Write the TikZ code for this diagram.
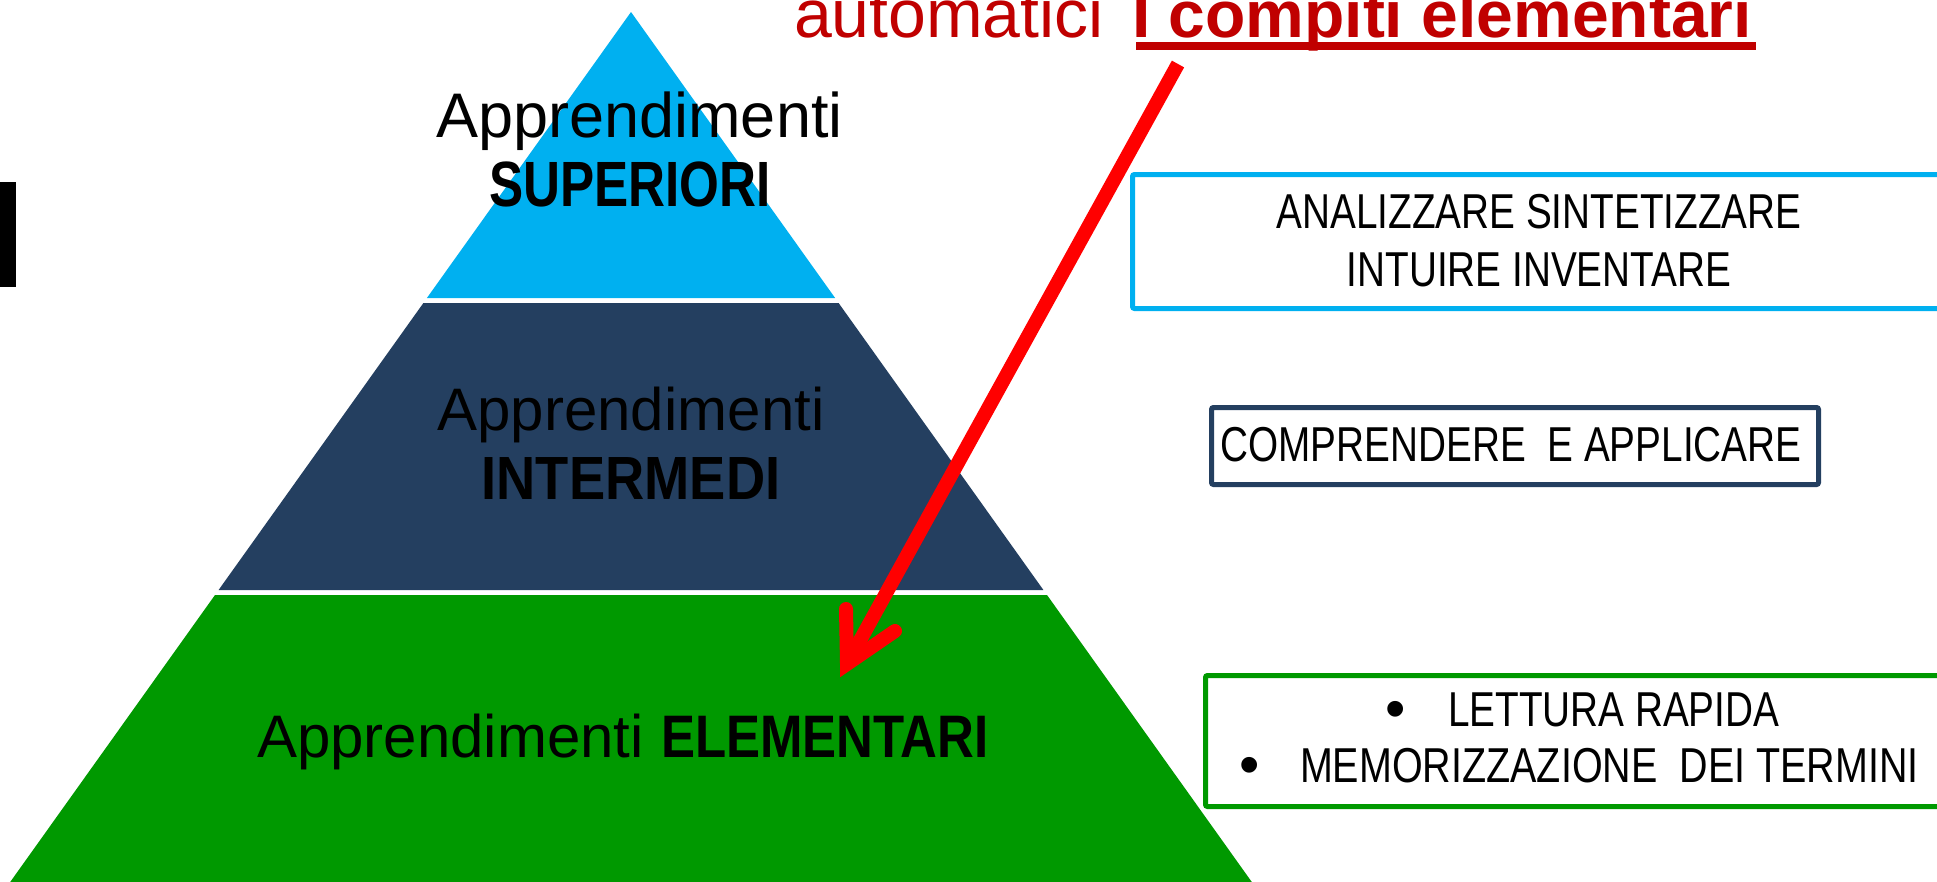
\documentclass[tikz,border=0pt]{standalone}
\usepackage{fontspec}
\setmainfont{Liberation Sans}
\newfontfamily\narrowfont[FakeStretch=0.79]{Liberation Sans}
\usepackage{graphicx}
\definecolor{lblue}{HTML}{00B0F0}
\definecolor{navy}{HTML}{243F60}
\definecolor{pgreen}{HTML}{009900}
\definecolor{dred}{HTML}{C00000}
\definecolor{ared}{HTML}{FF0000}
\begin{document}
\begin{tikzpicture}[x=1pt,y=-1pt,
  lbl/.style={inner sep=0pt, outer sep=0pt, anchor=base},
  boxtxt/.style={inner sep=0pt, outer sep=0pt, anchor=base, font=\narrowfont\fontsize{49}{56}\selectfont},
  bul/.style={inner sep=0pt, outer sep=0pt, anchor=base, font=\fontsize{58}{60}\selectfont},
  frame/.style={line width=5pt, rounded corners=2pt},
  arrowline/.style={ared, line width=14pt}]
\useasboundingbox (0,0) rectangle (1937,881);
\fill[white] (0,0) rectangle (1937,881);

% pyramid layers
\fill[lblue] (631,12) -- (835.1,298) -- (426.9,298) -- cycle;
\fill[navy] (423.4,303) -- (838.6,303) -- (1043.4,590) -- (218.6,590) -- cycle;
\fill[pgreen] (215,595) -- (1047,595) -- (1257.5,890) -- (4.5,890) -- cycle;

% left black mark
\fill[black] (0,182) rectangle (16,287);

% frames
\draw[frame, lblue] (1132.5,174.5) rectangle (1960,308.5);
\draw[frame, navy] (1211.5,407.5) rectangle (1818.5,484.5);
\draw[frame, pgreen] (1205.5,675.5) rectangle (1960,806.5);

% pyramid labels
\node[lbl, font=\fontsize{63}{70}\selectfont] (t1a) at (639.5,137) {Apprendimenti};
\node[lbl, font=\fontsize{64}{70}\selectfont] (t1b) at (630,206) {\scalebox{0.8}[1]{\bfseries SUPERIORI}};
\node[lbl, font=\fontsize{60}{66}\selectfont] (t2a) at (631,430) {Apprendimenti};
\node[lbl, font=\fontsize{61}{66}\selectfont] (t2b) at (631,499) {\scalebox{0.89}[1]{\bfseries INTERMEDI}};
\node[lbl, anchor=base west, font=\fontsize{60}{66}\selectfont] (t3a) at (257,757) {Apprendimenti};
\node[lbl, anchor=base west, font=\fontsize{60}{66}\selectfont] (t3b) at (661,757) {\scalebox{0.85}[1]{\bfseries ELEMENTARI}};

% red title
\node[lbl, anchor=base west, text=dred, font=\fontsize{68}{76}\selectfont] (ta) at (794,37) {automatici};
\node[lbl, anchor=base west, text=dred, font=\bfseries\fontsize{66}{76}\selectfont] (tb) at (1132,37) {I compiti elementari};
\draw[dred, line width=8pt] ([xshift=4pt,yshift=-9pt]tb.base west) -- ([xshift=4pt,yshift=-9pt]tb.base east);

% box texts
\node[boxtxt] (b1a) at (1539,228) {ANALIZZARE SINTETIZZARE};
\node[boxtxt] (b1b) at (1539,286) {INTUIRE INVENTARE};
\node[boxtxt] (b2) at (1511,461) {COMPRENDERE\ \ E APPLICARE};
\node[bul] (d1) at (1396,728) {•};
\node[boxtxt, anchor=base west] (b3a) at (1448,726) {LETTURA RAPIDA};
\node[bul] (d2) at (1250,784) {•};
\node[boxtxt, anchor=base west] (b3b) at (1300,782) {\scalebox{1.02}[1]{MEMORIZZAZIONE\ \ DEI TERMINI}};

% red arrow
\coordinate (as) at (1178,64);
\coordinate (av) at (847,664);
\coordinate (al) at (846,609);
\coordinate (ar) at (895,631);
\draw[arrowline] (as) -- (av);
\draw[arrowline, line cap=round, miter limit=10] (al) -- (av) -- (ar);
\end{tikzpicture}
\end{document}
